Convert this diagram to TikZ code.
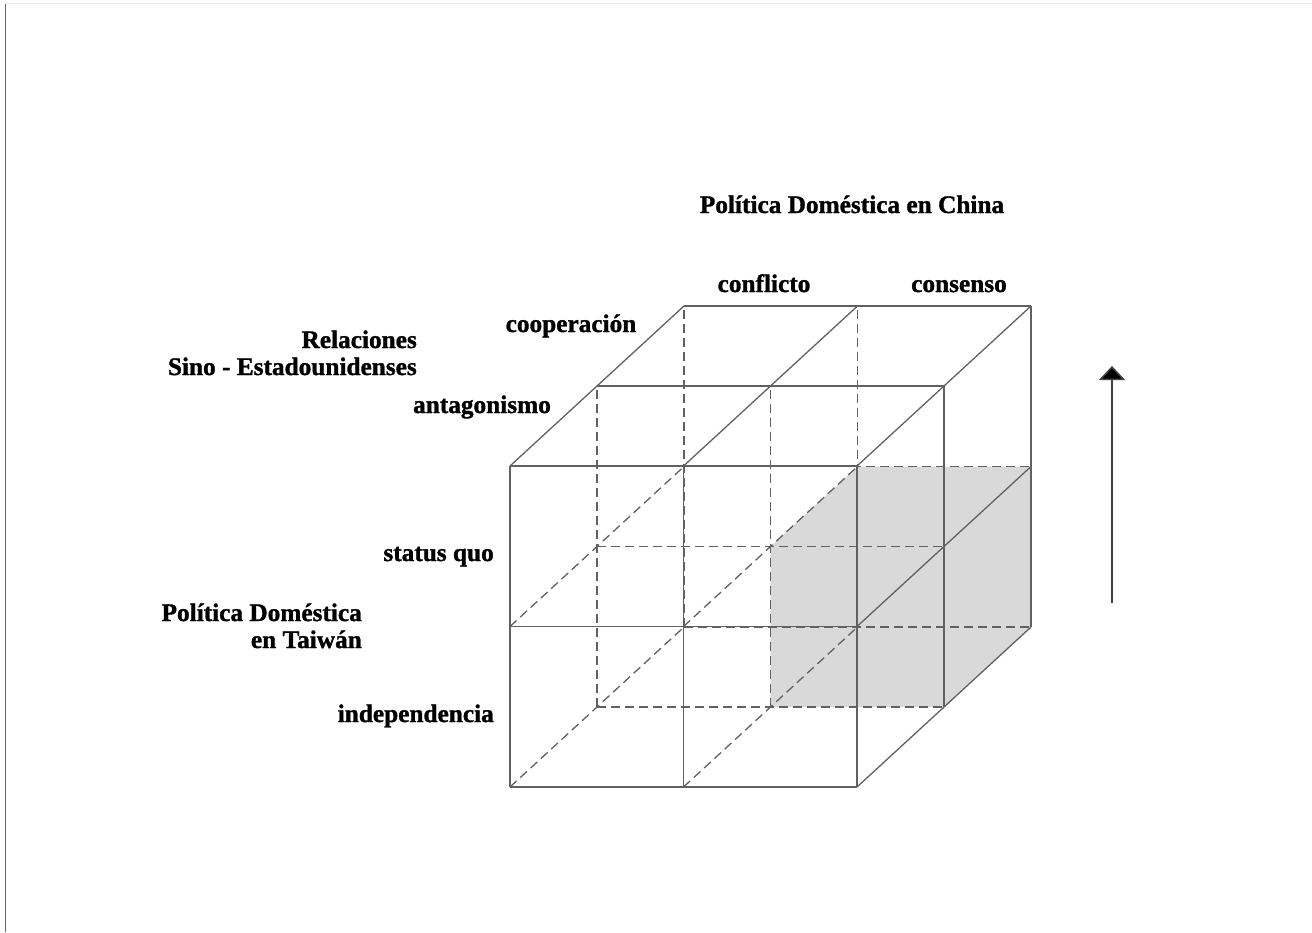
\documentclass[tikz,border=0pt]{standalone}
\usepackage{fontspec}
\setmainfont{Liberation Serif}[BoldFeatures={FakeBold=1.2}]
\usetikzlibrary{arrows.meta}

\tikzset{
  edge/.style={draw=black!62, line width=1.3pt},
  hidden/.style={draw=black!62, line width=1.3pt, dash pattern=on 9pt off 5pt},
  lbl/.style={font=\fontsize{25.3}{28}\selectfont\bfseries, inner sep=0pt},
  shade/.style={fill=black!15},
  frame/.style={draw=black!60, line width=1.8pt}
}

\begin{document}
\begin{tikzpicture}[x=1pt, y=-1pt]
  \useasboundingbox (0,0) rectangle (1312,932);

  % page frame
  \draw[draw=black!8, line width=1pt] (5,3.5) -- (1312,3.5);
  \draw[frame] (5.5,4) -- (5.5,932);

  % lattice points of the 2x2x2 cube: i = column, j = level, k = depth
  \foreach \i in {0,1,2}
    \foreach \j in {0,1,2}
      \foreach \k in {0,1,2}
        \coordinate (p\i\j\k) at ({510+173.5*\i+87*\k},{787-160.5*\j-80*\k});

  % highlighted cell (right column, lower level, back half)
  \fill[shade] (p101) -- (p201) -- (p202) -- (p212) -- (p112) -- (p111) -- cycle;

  % hidden edges
  \foreach \j/\k in {0/1,1/1,0/2,1/2}
    \draw[hidden] (p0\j\k) -- (p2\j\k);
  \foreach \i/\k in {0/1,1/1,0/2,1/2}
    \draw[hidden] (p\i0\k) -- (p\i2\k);
  \foreach \i/\j in {0/0,1/0,0/1,1/1}
    \draw[hidden] (p\i\j0) -- (p\i\j2);

  % visible edges: front, top and right faces
  \foreach \j/\k in {0/0,1/0,2/0,2/1,2/2}
    \draw[edge] (p0\j\k) -- (p2\j\k);
  \foreach \i/\k in {0/0,1/0,2/0,2/1,2/2}
    \draw[edge] (p\i0\k) -- (p\i2\k);
  \foreach \i/\j in {2/0,2/1,0/2,1/2,2/2}
    \draw[edge] (p\i\j0) -- (p\i\j2);

  % axis titles and category labels
  \node[lbl, anchor=base] (china) at (852,213) {Política Doméstica en China};
  \node[lbl, anchor=base] (conf) at (764,292) {conflicto};
  \node[lbl, anchor=base] (cons) at (959,292) {consenso};
  \node[lbl, anchor=base] (coop) at (571,332) {cooperación};
  \node[lbl, anchor=base east] (rel) at (417,348) {Relaciones};
  \node[lbl, anchor=base east] (sino) at (417,375) {Sino - Estadounidenses};
  \node[lbl, anchor=base] (antag) at (482,413) {antagonismo};
  \node[lbl, anchor=base east] (sq) at (494,561) {status quo};
  \node[lbl, anchor=base east] (pdt) at (362,621) {Política Doméstica};
  \node[lbl, anchor=base east] (tw) at (362,648) {en Taiwán};
  \node[lbl, anchor=base east] (ind) at (494,722) {independencia};

  % direction arrow
  \coordinate (arrlow) at (1112,603);
  \coordinate (arrtop) at (1112,366);
  \draw[draw=black!75, line width=1.5pt, -{Triangle[width=26pt,length=14pt,fill=black]}] (arrlow) -- (arrtop);
\end{tikzpicture}
\end{document}
